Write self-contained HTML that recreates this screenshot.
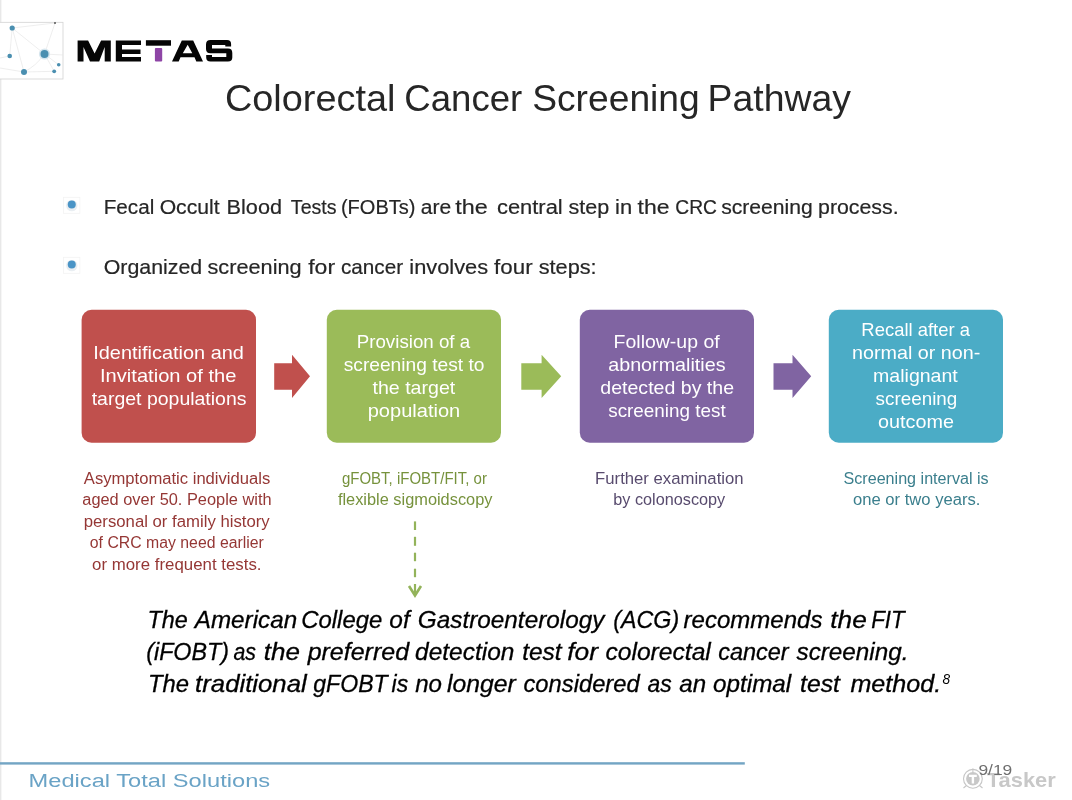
<!DOCTYPE html>
<html><head><meta charset="utf-8">
<style>
html,body{margin:0;padding:0;background:#fff;}
body{width:1072px;height:800px;overflow:hidden;position:relative;font-family:"Liberation Sans",sans-serif;}
svg{position:absolute;left:0;top:0;will-change:transform;}
text{font-family:"Liberation Sans",sans-serif;}
</style></head>
<body>
<svg width="1072" height="800" viewBox="0 0 1072 800">
<rect x="0" y="0" width="1072" height="800" fill="#fff"/>
<rect x="0" y="0" width="1" height="800" fill="#e8e8e8"/>
<rect x="1" y="0" width="1" height="800" fill="#f6f6f6"/>
<!-- network logo -->
<g>
<rect x="-1" y="22.3" width="64" height="56.7" fill="#fff" stroke="#d2d2d2" stroke-width="0.8"/>
<g stroke="#e6e6e6" stroke-width="0.7" fill="none">
<line x1="12.2" y1="28" x2="55" y2="23"/>
<line x1="12.2" y1="28" x2="44.5" y2="54"/>
<line x1="12.2" y1="28" x2="9.7" y2="56"/>
<line x1="12.2" y1="28" x2="24" y2="72"/>
<line x1="55" y1="23" x2="44.5" y2="54"/>
<path d="M24 72 Q36 66 44.5 54"/>
<line x1="44.5" y1="54" x2="54.2" y2="71.3"/>
<line x1="44.5" y1="54" x2="58.7" y2="64.8"/>
<line x1="44.5" y1="54" x2="63" y2="55"/>
<line x1="24" y1="72" x2="54.2" y2="71.3"/>
<line x1="0" y1="68" x2="24" y2="72"/>
<line x1="0" y1="58" x2="9.7" y2="56"/>
</g>
<circle cx="44.5" cy="54" r="5.6" fill="#d6e6ee"/>
<g fill="#4a8fb0">
<circle cx="12.2" cy="28" r="2.6"/>
<circle cx="9.7" cy="56" r="2.3"/>
<circle cx="44.5" cy="54" r="4.0"/>
<circle cx="24" cy="72" r="3.0"/>
<circle cx="58.7" cy="64.8" r="1.8"/>
<circle cx="54.2" cy="71.3" r="1.9"/>
<circle cx="55" cy="23" r="1" fill="#555"/>
</g>
</g>
<!-- METAS -->
<g fill="#050505">
<path d="M77.6 40.4 L88.1 40.4 L94.6 53.6 L101.1 40.4 L110.8 40.4 L110.8 61.6 L104.7 61.6 L104.7 47.1 L99.2 61.6 L90.0 61.6 L83.5 47.1 L83.5 61.6 L77.6 61.6 Z"/>
<path d="M115.8 40.4 L141 40.4 L141 45.1 L122 45.1 L122 49.4 L140.5 49.4 L140.5 54 L122 54 L122 56.9 L141 56.9 L141 61.6 L115.8 61.6 Z"/>
<path d="M145.9 40.2 L171 40.2 L171 45.7 L145.9 45.7 Z"/>
<path d="M172.0 61.6 L181.8 40.4 L193.2 40.4 L203.0 61.6 L196.3 61.6 L194.5 57.2 L180.5 57.2 L178.7 61.6 Z M187.7 44.8 L182.8 53.3 L192.3 53.3 Z" fill-rule="evenodd"/>
<path d="M206 44.5 Q206 40.1 210.5 40.1 L227 40.1 Q231.1 40.1 231.1 44 L231.1 46.5 L225.3 46.5 L225.3 45.1 L212 45.1 L212 48.6 L228 48.6 Q232.3 48.6 232.3 53 L232.3 57.5 Q232.3 61.6 228 61.6 L210.5 61.6 Q206.2 61.6 206.2 57.5 L206.2 55.1 L212 55.1 L212 57 L226.3 57 L226.3 53.2 L210.5 53.2 Q206 53.2 206 49 Z"/>
</g>
<rect x="154.9" y="48.1" width="7.3" height="13.5" rx="1" fill="#8e45a6"/>
<!-- bullets -->
<rect x="63.5" y="197.3" width="16.4" height="16" fill="none" stroke="#f3f3f3" stroke-width="0.8"/>
<circle cx="71.8" cy="205.6" r="5.7" fill="#e9eef2"/>
<circle cx="71.75" cy="204.5" r="4.0" fill="#4a94c6"/>
<rect x="63.5" y="257.3" width="16.4" height="16" fill="none" stroke="#f3f3f3" stroke-width="0.8"/>
<circle cx="71.8" cy="265.6" r="5.7" fill="#e9eef2"/>
<circle cx="71.75" cy="264.5" r="4.0" fill="#4a94c6"/>
<!-- boxes -->
<rect x="81.6" y="309.8" width="174.4" height="133" rx="10" fill="#c0504d"/>
<rect x="326.8" y="309.8" width="174.2" height="133" rx="10" fill="#9bbb59"/>
<rect x="579.8" y="309.8" width="174.2" height="133" rx="10" fill="#8064a2"/>
<rect x="828.8" y="309.8" width="174.2" height="133" rx="10" fill="#4bacc6"/>
<!-- arrows -->
<path d="M274.2 363.3 L292 363.3 L292 354.8 L310 376.3 L292 397.9 L292 389.8 L274.2 389.8 Z" fill="#c0504d"/>
<path d="M521.3 363.3 L541.6 363.3 L541.6 354.8 L561.2 376.3 L541.6 397.9 L541.6 389.8 L521.3 389.8 Z" fill="#9bbb59"/>
<path d="M773.5 363.3 L792.5 363.3 L792.5 354.8 L811.2 376.3 L792.5 397.9 L792.5 389.8 L773.5 389.8 Z" fill="#8064a2"/>
<!-- dashed arrow -->
<g stroke="#93b35a" stroke-width="2.2" fill="none">
<line x1="415" y1="521.4" x2="415" y2="530"/>
<line x1="415" y1="536.8" x2="415" y2="545.8"/>
<line x1="415" y1="552.7" x2="415" y2="561.2"/>
<line x1="415" y1="568.7" x2="415" y2="577.2"/>
<line x1="415" y1="584" x2="415" y2="595"/>
<polyline points="409,586 415,595.5 421,586" stroke-width="2.6" stroke-linejoin="miter"/>
</g>
<!-- footer -->
<rect x="0" y="762.2" width="744.8" height="2.4" fill="#73a5c4"/>
<!-- tasker icon -->
<g stroke="#c6c6c6" fill="none" stroke-width="1.1">
<circle cx="972.9" cy="778.8" r="9.4"/>
<line x1="972.9" y1="768.5" x2="972.9" y2="772.5"/>
<line x1="966.5" y1="785.5" x2="963.5" y2="788"/>
<line x1="979.5" y1="785.5" x2="982.5" y2="788"/>
</g>
<circle cx="972.9" cy="778.8" r="6.8" fill="#c8c8c8"/>
<path d="M969 774.8 L976.8 774.8 L976.8 777 L974.1 777 L974.1 783.5 L971.7 783.5 L971.7 777 L969 777 Z" fill="#fff"/>
<text transform="translate(224.90,111.00) scale(1.0243,1)" font-size="36.98" fill="#262626" font-style="normal" font-weight="normal">Colorectal</text>
<text transform="translate(404.31,111.00) scale(0.9895,1)" font-size="36.98" fill="#262626" font-style="normal" font-weight="normal">Cancer</text>
<text transform="translate(532.16,111.00) scale(1.0066,1)" font-size="36.98" fill="#262626" font-style="normal" font-weight="normal">Screening</text>
<text transform="translate(707.53,111.00) scale(1.0119,1)" font-size="36.98" fill="#262626" font-style="normal" font-weight="normal">Pathway</text>
<text transform="translate(103.67,213.90) scale(0.9831,1)" font-size="21.05" fill="#262626" font-style="normal" font-weight="normal" stroke="#262626" stroke-width="0.2">Fecal</text>
<text transform="translate(159.67,213.90) scale(1.0056,1)" font-size="21.05" fill="#262626" font-style="normal" font-weight="normal" stroke="#262626" stroke-width="0.2">Occult</text>
<text transform="translate(226.58,213.90) scale(1.0302,1)" font-size="21.05" fill="#262626" font-style="normal" font-weight="normal" stroke="#262626" stroke-width="0.2">Blood</text>
<text transform="translate(290.84,213.90) scale(0.9306,1)" font-size="21.05" fill="#262626" font-style="normal" font-weight="normal" stroke="#262626" stroke-width="0.2">Tests</text>
<text transform="translate(340.96,213.90) scale(0.9509,1)" font-size="21.05" fill="#262626" font-style="normal" font-weight="normal" stroke="#262626" stroke-width="0.2">(FOBTs)</text>
<text transform="translate(420.83,213.90) scale(1.0007,1)" font-size="21.05" fill="#262626" font-style="normal" font-weight="normal" stroke="#262626" stroke-width="0.2">are</text>
<text transform="translate(455.23,213.90) scale(1.1106,1)" font-size="21.05" fill="#262626" font-style="normal" font-weight="normal" stroke="#262626" stroke-width="0.2">the</text>
<text transform="translate(496.92,213.90) scale(1.0418,1)" font-size="21.05" fill="#262626" font-style="normal" font-weight="normal" stroke="#262626" stroke-width="0.2">central</text>
<text transform="translate(568.55,213.90) scale(1.0242,1)" font-size="21.05" fill="#262626" font-style="normal" font-weight="normal" stroke="#262626" stroke-width="0.2">step</text>
<text transform="translate(615.02,213.90) scale(1.0448,1)" font-size="21.05" fill="#262626" font-style="normal" font-weight="normal" stroke="#262626" stroke-width="0.2">in</text>
<text transform="translate(637.55,213.90) scale(1.0916,1)" font-size="21.05" fill="#262626" font-style="normal" font-weight="normal" stroke="#262626" stroke-width="0.2">the</text>
<text transform="translate(675.30,213.90) scale(0.9136,1)" font-size="21.05" fill="#262626" font-style="normal" font-weight="normal" stroke="#262626" stroke-width="0.2">CRC</text>
<text transform="translate(721.20,213.90) scale(1.0032,1)" font-size="21.05" fill="#262626" font-style="normal" font-weight="normal" stroke="#262626" stroke-width="0.2">screening</text>
<text transform="translate(818.05,213.90) scale(1.0132,1)" font-size="21.05" fill="#262626" font-style="normal" font-weight="normal" stroke="#262626" stroke-width="0.2">process.</text>
<text transform="translate(103.72,274.00) scale(1.0150,1)" font-size="21.05" fill="#262626" font-style="normal" font-weight="normal" stroke="#262626" stroke-width="0.2">Organized</text>
<text transform="translate(207.50,274.00) scale(1.0318,1)" font-size="21.05" fill="#262626" font-style="normal" font-weight="normal" stroke="#262626" stroke-width="0.2">screening</text>
<text transform="translate(308.16,274.00) scale(1.0952,1)" font-size="21.05" fill="#262626" font-style="normal" font-weight="normal" stroke="#262626" stroke-width="0.2">for</text>
<text transform="translate(340.95,274.00) scale(0.9837,1)" font-size="21.05" fill="#262626" font-style="normal" font-weight="normal" stroke="#262626" stroke-width="0.2">cancer</text>
<text transform="translate(409.28,274.00) scale(1.0370,1)" font-size="21.05" fill="#262626" font-style="normal" font-weight="normal" stroke="#262626" stroke-width="0.2">involves</text>
<text transform="translate(494.11,274.00) scale(1.0611,1)" font-size="21.05" fill="#262626" font-style="normal" font-weight="normal" stroke="#262626" stroke-width="0.2">four</text>
<text transform="translate(538.66,274.00) scale(1.0328,1)" font-size="21.05" fill="#262626" font-style="normal" font-weight="normal" stroke="#262626" stroke-width="0.2">steps:</text>
<text transform="translate(93.24,359.10) scale(1.0535,1)" font-size="18.92" fill="#ffffff" font-style="normal" font-weight="normal">Identification and</text>
<text transform="translate(100.03,382.20) scale(1.0631,1)" font-size="18.92" fill="#ffffff" font-style="normal" font-weight="normal">Invitation of the</text>
<text transform="translate(91.70,405.00) scale(1.0301,1)" font-size="18.92" fill="#ffffff" font-style="normal" font-weight="normal">target populations</text>
<text transform="translate(356.74,348.00) scale(0.9899,1)" font-size="18.92" fill="#ffffff" font-style="normal" font-weight="normal">Provision of a</text>
<text transform="translate(343.70,371.00) scale(1.0150,1)" font-size="18.92" fill="#ffffff" font-style="normal" font-weight="normal">screening test to</text>
<text transform="translate(372.50,394.00) scale(1.0352,1)" font-size="18.92" fill="#ffffff" font-style="normal" font-weight="normal">the target</text>
<text transform="translate(367.64,417.00) scale(1.0617,1)" font-size="18.92" fill="#ffffff" font-style="normal" font-weight="normal">population</text>
<text transform="translate(613.58,348.00) scale(1.0304,1)" font-size="18.92" fill="#ffffff" font-style="normal" font-weight="normal">Follow-up of</text>
<text transform="translate(608.18,371.00) scale(1.0430,1)" font-size="18.92" fill="#ffffff" font-style="normal" font-weight="normal">abnormalities</text>
<text transform="translate(600.29,394.00) scale(1.0344,1)" font-size="18.92" fill="#ffffff" font-style="normal" font-weight="normal">detected by the</text>
<text transform="translate(608.21,417.00) scale(0.9980,1)" font-size="18.92" fill="#ffffff" font-style="normal" font-weight="normal">screening test</text>
<text transform="translate(861.36,335.90) scale(0.9747,1)" font-size="18.92" fill="#ffffff" font-style="normal" font-weight="normal">Recall after a</text>
<text transform="translate(851.97,358.80) scale(1.0434,1)" font-size="18.92" fill="#ffffff" font-style="normal" font-weight="normal">normal or non-</text>
<text transform="translate(873.08,381.70) scale(1.0334,1)" font-size="18.92" fill="#ffffff" font-style="normal" font-weight="normal">malignant</text>
<text transform="translate(875.61,404.60) scale(0.9968,1)" font-size="18.92" fill="#ffffff" font-style="normal" font-weight="normal">screening</text>
<text transform="translate(877.98,427.50) scale(1.0465,1)" font-size="18.92" fill="#ffffff" font-style="normal" font-weight="normal">outcome</text>
<text transform="translate(83.80,483.60) scale(1.0626,1)" font-size="15.64" fill="#953735" font-style="normal" font-weight="normal">Asymptomatic individuals</text>
<text transform="translate(82.29,505.10) scale(1.0477,1)" font-size="15.64" fill="#953735" font-style="normal" font-weight="normal">aged over 50. People with</text>
<text transform="translate(83.75,526.60) scale(1.0705,1)" font-size="15.64" fill="#953735" font-style="normal" font-weight="normal">personal or family history</text>
<text transform="translate(89.81,548.20) scale(1.0123,1)" font-size="15.64" fill="#953735" font-style="normal" font-weight="normal">of CRC may need earlier</text>
<text transform="translate(92.07,569.70) scale(1.0773,1)" font-size="15.64" fill="#953735" font-style="normal" font-weight="normal">or more frequent tests.</text>
<text transform="translate(341.93,484.00) scale(0.9597,1)" font-size="15.64" fill="#76923c" font-style="normal" font-weight="normal">gFOBT, iFOBT/FIT, or</text>
<text transform="translate(337.90,505.30) scale(1.0459,1)" font-size="15.64" fill="#76923c" font-style="normal" font-weight="normal">flexible sigmoidscopy</text>
<text transform="translate(595.09,484.00) scale(1.0684,1)" font-size="15.64" fill="#584b6e" font-style="normal" font-weight="normal">Further examination</text>
<text transform="translate(613.28,505.30) scale(1.0387,1)" font-size="15.64" fill="#584b6e" font-style="normal" font-weight="normal">by colonoscopy</text>
<text transform="translate(843.50,484.00) scale(1.0315,1)" font-size="15.64" fill="#3b7f8d" font-style="normal" font-weight="normal">Screening interval is</text>
<text transform="translate(852.98,505.30) scale(1.0635,1)" font-size="15.64" fill="#3b7f8d" font-style="normal" font-weight="normal">one or two years.</text>
<text transform="translate(147.57,627.60) scale(0.9675,1)" font-size="24.18" fill="#000" font-style="italic" font-weight="normal" stroke="#000" stroke-width="0.3">The</text>
<text transform="translate(194.74,627.60) scale(1.0029,1)" font-size="24.18" fill="#000" font-style="italic" font-weight="normal" stroke="#000" stroke-width="0.3">American</text>
<text transform="translate(301.24,627.60) scale(0.9890,1)" font-size="24.18" fill="#000" font-style="italic" font-weight="normal" stroke="#000" stroke-width="0.3">College</text>
<text transform="translate(389.29,627.60) scale(1.0111,1)" font-size="24.18" fill="#000" font-style="italic" font-weight="normal" stroke="#000" stroke-width="0.3">of</text>
<text transform="translate(417.83,627.60) scale(1.0060,1)" font-size="24.18" fill="#000" font-style="italic" font-weight="normal" stroke="#000" stroke-width="0.3">Gastroenterology</text>
<text transform="translate(613.28,627.60) scale(0.9616,1)" font-size="24.18" fill="#000" font-style="italic" font-weight="normal" stroke="#000" stroke-width="0.3">(ACG)</text>
<text transform="translate(683.51,627.60) scale(0.9945,1)" font-size="24.18" fill="#000" font-style="italic" font-weight="normal" stroke="#000" stroke-width="0.3">recommends</text>
<text transform="translate(830.23,627.60) scale(1.0882,1)" font-size="24.18" fill="#000" font-style="italic" font-weight="normal" stroke="#000" stroke-width="0.3">the</text>
<text transform="translate(871.21,627.60) scale(0.9230,1)" font-size="24.18" fill="#000" font-style="italic" font-weight="normal" stroke="#000" stroke-width="0.3">FIT</text>
<text transform="translate(146.22,659.90) scale(0.9631,1)" font-size="24.18" fill="#000" font-style="italic" font-weight="normal" stroke="#000" stroke-width="0.3">(iFOBT)</text>
<text transform="translate(233.44,659.90) scale(0.8818,1)" font-size="24.18" fill="#000" font-style="italic" font-weight="normal" stroke="#000" stroke-width="0.3">as</text>
<text transform="translate(263.84,659.90) scale(1.0758,1)" font-size="24.18" fill="#000" font-style="italic" font-weight="normal" stroke="#000" stroke-width="0.3">the</text>
<text transform="translate(307.63,659.90) scale(1.0344,1)" font-size="24.18" fill="#000" font-style="italic" font-weight="normal" stroke="#000" stroke-width="0.3">preferred</text>
<text transform="translate(415.12,659.90) scale(1.0117,1)" font-size="24.18" fill="#000" font-style="italic" font-weight="normal" stroke="#000" stroke-width="0.3">detection</text>
<text transform="translate(522.22,659.90) scale(1.0123,1)" font-size="24.18" fill="#000" font-style="italic" font-weight="normal" stroke="#000" stroke-width="0.3">test</text>
<text transform="translate(567.19,659.90) scale(1.0914,1)" font-size="24.18" fill="#000" font-style="italic" font-weight="normal" stroke="#000" stroke-width="0.3">for</text>
<text transform="translate(605.39,659.90) scale(1.0192,1)" font-size="24.18" fill="#000" font-style="italic" font-weight="normal" stroke="#000" stroke-width="0.3">colorectal</text>
<text transform="translate(718.15,659.90) scale(0.9725,1)" font-size="24.18" fill="#000" font-style="italic" font-weight="normal" stroke="#000" stroke-width="0.3">cancer</text>
<text transform="translate(796.51,659.90) scale(1.0034,1)" font-size="24.18" fill="#000" font-style="italic" font-weight="normal" stroke="#000" stroke-width="0.3">screening.</text>
<text transform="translate(147.91,692.30) scale(0.9866,1)" font-size="24.18" fill="#000" font-style="italic" font-weight="normal" stroke="#000" stroke-width="0.3">The</text>
<text transform="translate(195.09,692.30) scale(1.0656,1)" font-size="24.18" fill="#000" font-style="italic" font-weight="normal" stroke="#000" stroke-width="0.3">traditional</text>
<text transform="translate(313.28,692.30) scale(0.9540,1)" font-size="24.18" fill="#000" font-style="italic" font-weight="normal" stroke="#000" stroke-width="0.3">gFOBT</text>
<text transform="translate(391.60,692.30) scale(0.9505,1)" font-size="24.18" fill="#000" font-style="italic" font-weight="normal" stroke="#000" stroke-width="0.3">is</text>
<text transform="translate(415.20,692.30) scale(0.9973,1)" font-size="24.18" fill="#000" font-style="italic" font-weight="normal" stroke="#000" stroke-width="0.3">no</text>
<text transform="translate(446.99,692.30) scale(1.0236,1)" font-size="24.18" fill="#000" font-style="italic" font-weight="normal" stroke="#000" stroke-width="0.3">longer</text>
<text transform="translate(523.44,692.30) scale(0.9831,1)" font-size="24.18" fill="#000" font-style="italic" font-weight="normal" stroke="#000" stroke-width="0.3">considered</text>
<text transform="translate(647.51,692.30) scale(0.9469,1)" font-size="24.18" fill="#000" font-style="italic" font-weight="normal" stroke="#000" stroke-width="0.3">as</text>
<text transform="translate(679.32,692.30) scale(0.9990,1)" font-size="24.18" fill="#000" font-style="italic" font-weight="normal" stroke="#000" stroke-width="0.3">an</text>
<text transform="translate(713.11,692.30) scale(1.0026,1)" font-size="24.18" fill="#000" font-style="italic" font-weight="normal" stroke="#000" stroke-width="0.3">optimal</text>
<text transform="translate(800.09,692.30) scale(1.0237,1)" font-size="24.18" fill="#000" font-style="italic" font-weight="normal" stroke="#000" stroke-width="0.3">test</text>
<text transform="translate(850.41,692.30) scale(1.0399,1)" font-size="24.18" fill="#000" font-style="italic" font-weight="normal" stroke="#000" stroke-width="0.3">method.</text>
<text transform="translate(942.59,683.50) scale(0.9840,1)" font-size="13.94" fill="#000" font-style="italic" font-weight="normal">8</text>
<text transform="translate(28.55,787.00) scale(1.3110,1)" font-size="18.06" fill="#6aa3c6" font-style="normal" font-weight="normal">Medical Total Solutions</text>
<text transform="translate(986.80,786.60) scale(1.1161,1)" font-size="19.63" fill="#c8c8c8" font-style="normal" font-weight="bold">Tasker</text>
<text transform="translate(978.38,774.60) scale(1.2255,1)" font-size="14.22" fill="#6e6e6e" font-style="normal" font-weight="normal">9/19</text>
</svg>
</body></html>
